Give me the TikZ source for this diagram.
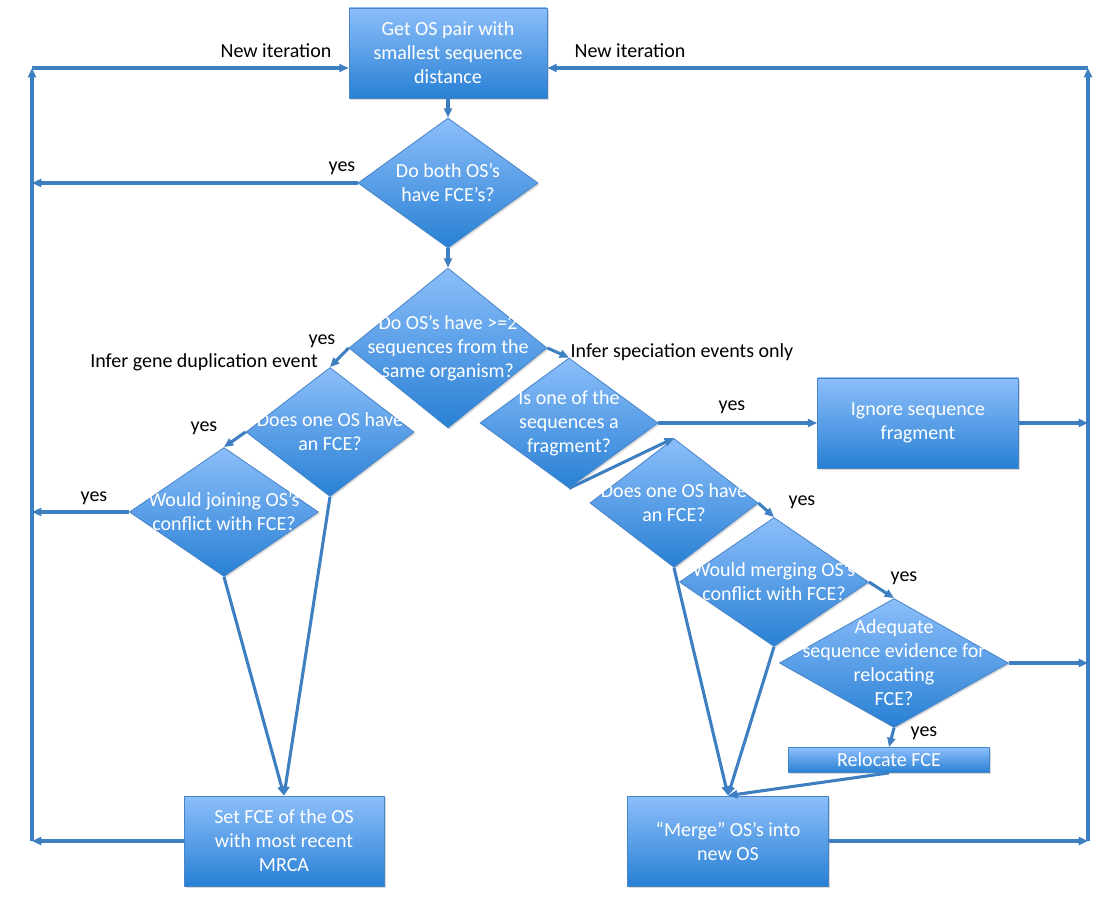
\documentclass[tikz,border=0pt]{standalone}
\usepackage{fontspec}
\setmainfont{Carlito}
\usetikzlibrary{shapes.geometric,arrows.meta,shadows}
\definecolor{boxtop}{RGB}{140,190,250}
\definecolor{boxbot}{RGB}{40,128,212}
\definecolor{boxline}{RGB}{72,132,200}
\definecolor{flow}{RGB}{62,127,194}
\tikzset{
  boxnode/.style={rectangle, draw=boxline, line width=0.6pt, top color=boxtop, bottom color=boxbot,
    text=white, align=center, font=\fontsize{15pt}{18pt}\selectfont, inner sep=0pt,
    drop shadow={opacity=0.3, shadow xshift=1.2pt, shadow yshift=-1.2pt}},
  dtext/.style={text=white, align=center, font=\fontsize{15pt}{18pt}\selectfont, inner sep=0pt},
  decision/.style={diamond, draw=boxline, line width=0.6pt, top color=boxtop, bottom color=boxbot,
    inner sep=0pt, drop shadow={opacity=0.3, shadow xshift=1.2pt, shadow yshift=-1.2pt},
    label={[dtext]center:#1}},
  conn/.style={draw=flow, line width=2.3pt, -{Triangle[length=7pt,width=6pt]}},
  lbl/.style={font=\fontsize{15pt}{18pt}\selectfont, text=black, inner sep=0pt},
}
\begin{document}
\begin{tikzpicture}[x=0.75pt,y=-0.75pt]
\useasboundingbox (0,0) rectangle (1111,898);

\coordinate (lt) at (32,68);
\coordinate (lb) at (32,841);
\coordinate (rt) at (1088,68);
\coordinate (rb) at (1088,841);

\node[boxnode, minimum width=148.5pt, minimum height=67.5pt] (getpair) at (448,53) {Get OS pair with\\smallest sequence\\distance};
\node[decision={Do both OS’s\\have FCE’s?}, minimum width=135pt, minimum height=97.5pt] (bothfce) at (448,183) {};
\node[decision={Do OS’s have >=2\\sequences from the\\same organism?}, minimum width=148.5pt, minimum height=120pt] (sameorg) at (448,348) {};

\node[decision={Does one OS have\\an FCE?}, minimum width=126pt, minimum height=96.75pt] (dupfce) at (330,432) {};
\node[decision={Would joining OS’s\\conflict with FCE?}, minimum width=141.75pt, minimum height=96.75pt] (joinconf) at (224,512) {};
\node[boxnode, minimum width=150pt, minimum height=67.5pt] (setfce) at (284,841) {Set FCE of the OS\\with most recent\\MRCA};

\node[decision={Is one of the\\sequences a\\fragment?}, minimum width=133.5pt, minimum height=97.5pt] (fragment) at (569,423) {};
\node[boxnode, minimum width=150.75pt, minimum height=67.5pt] (ignore) at (918,423) {Ignore sequence\\fragment};
\node[decision={Does one OS have\\an FCE?}, minimum width=126pt, minimum height=96.75pt] (specfce) at (674,503) {};
\node[decision={Would merging OS’s\\conflict with FCE?}, minimum width=141.75pt, minimum height=96.75pt] (mergeconf) at (774,582) {};
\node[decision={Adequate\\sequence evidence for\\relocating\\FCE?}, minimum width=171.75pt, minimum height=96.75pt] (evidence) at (894,663) {};
\node[boxnode, minimum width=150.75pt, minimum height=18.75pt] (relocate) at (889,760) {Relocate FCE};
\node[boxnode, minimum width=150.75pt, minimum height=67.5pt] (merge) at (728,841) {“Merge” OS’s into\\new OS};

\node[lbl] (iterl) at (276,51) {New iteration};
\node[lbl] (iterr) at (630,51) {New iteration};
\node[lbl] (yes1) at (342,168) {yes};
\node[lbl] (yes2) at (322,341) {yes};
\node[lbl] (dupl) at (204,362) {Infer gene duplication event};
\node[lbl] (yes3) at (204,428) {yes};
\node[lbl] (yes4) at (94,498) {yes};
\node[lbl] (spec) at (682,352) {Infer speciation events only};
\node[lbl] (yes5) at (732,407) {yes};
\node[lbl] (yes6) at (802,502) {yes};
\node[lbl] (yes7) at (904,578) {yes};
\node[lbl] (yes8) at (924,733) {yes};

\draw[conn] (lb) -- (lt);
\draw[conn] (lt) -- (lt -| getpair.west);
\draw[conn] (rb) -- (rt);
\draw[conn] (rt) -- (rt -| getpair.east);
\draw[conn] (getpair) -- (bothfce);
\draw[conn] (bothfce.west) -- (bothfce.west -| lt);
\draw[conn] (bothfce) -- (sameorg);
\draw[conn] (sameorg.west) -- (dupfce.north);
\draw[conn] (dupfce.west) -- (joinconf.north);
\draw[conn] (joinconf.west) -- (joinconf.west -| lt);
\draw[conn] (dupfce.south) -- (setfce.north);
\draw[conn] (joinconf.south) -- (setfce.north);
\draw[conn] (setfce.west) -- (setfce.west -| lt);
\draw[conn] (sameorg.east) -- (fragment.north);
\draw[conn] (fragment.east) -- (ignore.west);
\draw[conn] (ignore.east) -- (ignore.east -| rt);
\draw[conn] (fragment.south) -- (specfce.north);
\draw[conn] (specfce.east) -- (mergeconf.north);
\draw[conn] (mergeconf.east) -- (evidence.north);
\draw[conn] (evidence.east) -- (evidence.east -| rt);
\draw[conn] (evidence.south) -- (relocate.north);
\draw[conn] (relocate.south) -- (merge.north);
\draw[conn] (specfce.south) -- (merge.north);
\draw[conn] (mergeconf.south) -- (merge.north);
\draw[conn] (merge.east) -- (merge.east -| rt);
\end{tikzpicture}
\end{document}
